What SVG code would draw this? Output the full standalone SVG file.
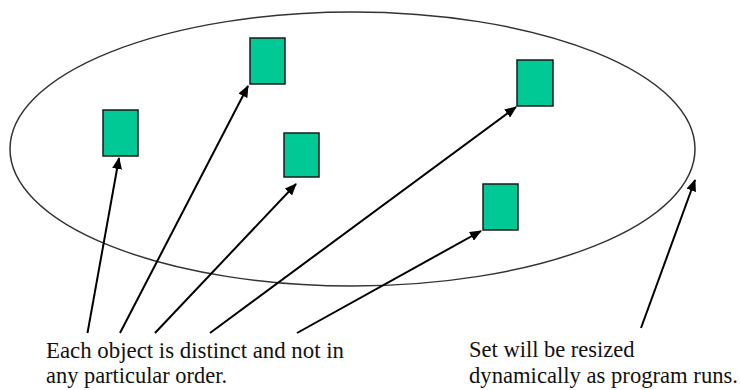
<svg xmlns="http://www.w3.org/2000/svg" width="741" height="390" viewBox="0 0 741 390">
<defs>
<style>
.obj{fill:#00C996;stroke:#1a1a1a;stroke-width:1.5}
.arr{stroke:#000;stroke-width:2;fill:none;marker-end:url(#ah)}
text{font-family:"Liberation Serif","Times New Roman",Tinos,"DejaVu Serif","Noto Serif",serif;font-size:22.5px;fill:#111}
</style>
<marker id="ah" viewBox="0 0 12 10" refX="11" refY="5" markerWidth="6" markerHeight="5" orient="auto" markerUnits="strokeWidth">
<path d="M0,0 L12,5 L0,10 z" fill="#000"/>
</marker>
</defs>
<rect width="741" height="390" fill="#fff"/>
<g id="set">
<ellipse cx="352.5" cy="149" rx="342.5" ry="137" fill="none" stroke="#333" stroke-width="1.5"/>
</g>
<g id="obj1"><rect class="obj" x="103" y="110" width="35" height="46"/></g>
<g id="obj2"><rect class="obj" x="250" y="38" width="35" height="46"/></g>
<g id="obj3"><rect class="obj" x="284" y="133" width="35" height="44"/></g>
<g id="obj4"><rect class="obj" x="517" y="60" width="36" height="46"/></g>
<g id="obj5"><rect class="obj" x="483" y="184" width="35" height="46"/></g>
<g id="connectors">
<line class="arr" x1="87.5" y1="333" x2="119" y2="158"/>
<line class="arr" x1="120" y1="333" x2="248" y2="86"/>
<line class="arr" x1="155" y1="333" x2="296" y2="184"/>
<line class="arr" x1="210" y1="333" x2="516" y2="107"/>
<line class="arr" x1="297" y1="333" x2="481" y2="231"/>
<line class="arr" x1="641" y1="328" x2="695" y2="180"/>
</g>
<g id="label-left">
<text x="46" y="358" font-family="Liberation Serif, serif" style="font-family:'Liberation Serif',serif" textLength="298" lengthAdjust="spacingAndGlyphs">Each object is distinct and not in</text>
<text x="46" y="383" font-family="Liberation Serif, serif" style="font-family:'Liberation Serif',serif" textLength="181" lengthAdjust="spacingAndGlyphs">any particular order.</text>
</g>
<g id="label-right">
<text x="469" y="357" font-family="Liberation Serif, serif" style="font-family:'Liberation Serif',serif">Set will be resized</text>
<text x="469" y="383" font-family="Liberation Serif, serif" style="font-family:'Liberation Serif',serif" textLength="269" lengthAdjust="spacingAndGlyphs">dynamically as program runs.</text>
</g>
</svg>
